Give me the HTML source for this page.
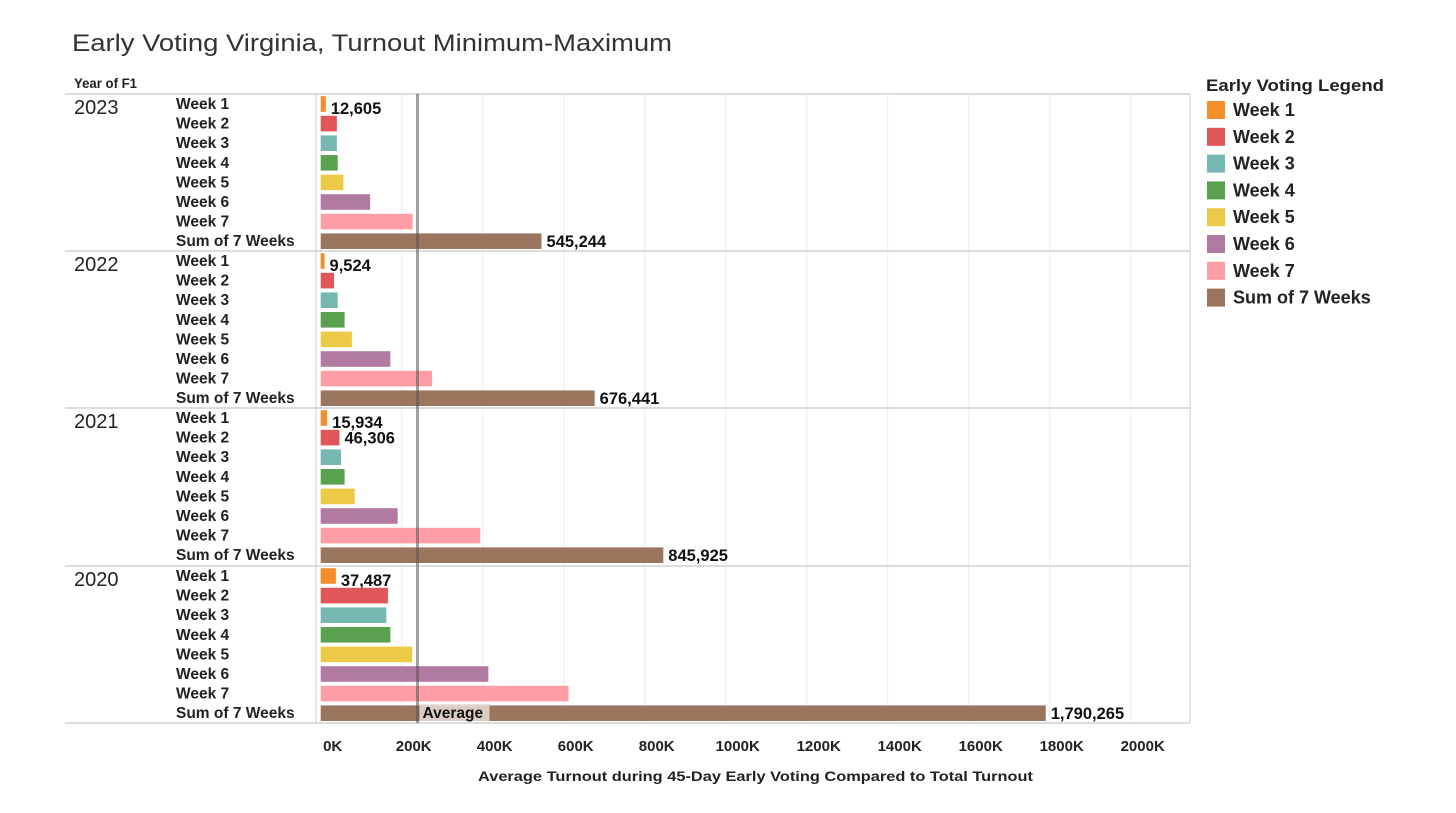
<!DOCTYPE html>
<html><head><meta charset="utf-8"><style>
body{margin:0;background:#fff;font-family:"Liberation Sans",sans-serif;}
svg text{font-family:"Liberation Sans",sans-serif;}
</style></head><body>
<svg id="c" width="1456" height="808">
<text x="72" y="51" font-size="24" fill="#333" textLength="600" lengthAdjust="spacingAndGlyphs">Early Voting Virginia, Turnout Minimum-Maximum</text>
<text x="74" y="88" font-size="14" font-weight="bold" fill="#222" textLength="63" lengthAdjust="spacingAndGlyphs">Year of F1</text>
<text x="1206" y="91" font-size="17" font-weight="bold" fill="#222" textLength="178" lengthAdjust="spacingAndGlyphs">Early Voting Legend</text>
<text x="478" y="781" font-size="14" font-weight="bold" fill="#222" textLength="555" lengthAdjust="spacingAndGlyphs">Average Turnout during 45-Day Early Voting Compared to Total Turnout</text>
<g id="g"></g>
</svg>
<script>
const years=["2023","2022","2021","2020"];
const categories=["Week 1","Week 2","Week 3","Week 4","Week 5","Week 6","Week 7","Sum of 7 Weeks"];
const v2023=[12605,40000,40000,42000,56000,122000,227000,545244];
const v2022=[9524,33000,42000,59000,77000,172000,275000,676441];
const v2021=[15934,46306,50000,59000,84000,190000,394000,845925];
const v2020=[37487,166000,162000,172000,226000,414000,612000,1790265];
const labeled=[[0,7],[0,7],[0,1,7],[0,7]];
const ticks=[0,200000,400000,600000,800000,1000000,1200000,1400000,1600000,1800000,2000000];
const tickLabels=["0K","200K","400K","600K","800K","1000K","1200K","1400K","1600K","1800K","2000K"];
const average=239000;
const colors=["#f28e2b","#e15759","#76b7b2","#59a14f","#edc948","#b07aa1","#ff9da7","#9c755f"];
const series=[v2023,v2022,v2021,v2020];
const x0=320.7,k=81/200000;
const X=v=>x0+v*k;
const panelTop=[94,251,408,566],panelH=157,pitch=19.6;
const g=document.getElementById('g');
const NS="http://www.w3.org/2000/svg";
function el(t,a,txt){const e=document.createElementNS(NS,t);for(const n in a)e.setAttribute(n,a[n]);if(txt!=null)e.textContent=txt;g.appendChild(e);return e;}
ticks.forEach((t,i)=>{if(i>0){const e=el('line',{x1:X(t),x2:X(t),y1:94,y2:723,stroke:'#ececec','stroke-width':1});

}
const l=el('text',{x:X(t)+12,y:751,'font-size':15,'font-weight':'bold','text-anchor':'middle',fill:'#222'},tickLabels[i]);

});
let f=el('line',{x1:316,x2:316,y1:94,y2:723,stroke:'#ccc'});


f=el('line',{x1:1190,x2:1190,y1:94,y2:723,stroke:'#ccc'});


[94,251,408,566,723].forEach(y=>{const e=el('line',{x1:65,x2:1190,y1:y,y2:y,stroke:'#c8c8c8','stroke-width':1.2});

});
series.forEach((vals,p)=>{
 const yl=el('text',{x:74,y:panelTop[p]+20,'font-size':20,fill:'#222'},years[p]);
 
 
 vals.forEach((v,i)=>{
  const cy=panelTop[p]+10+i*pitch;
  const rl=el('text',{x:176,y:cy+5,'font-size':15.5,'font-weight':'bold',fill:'#222'},categories[i]);
  
  
  const r=el('rect',{x:x0,y:cy-7.8,width:Math.max(X(v)-x0,1),height:15.6,fill:colors[i]});
  
  
  if(labeled[p].includes(i)){
   const t=el('text',{x:X(v)+5,y:cy+(i===0?10:6),'font-size':16.5,'font-weight':'bold',fill:'#111'},v.toLocaleString('en-US'));
   
   
  }
 });
});
const al=el('line',{x1:X(average),x2:X(average),y1:94,y2:723,stroke:'#555','stroke-width':3,opacity:0.55});


const ab=el('rect',{x:X(average)+2,y:704,width:70,height:17,fill:'#e6dcd6',opacity:0.85});


const at=el('text',{x:X(average)+5,y:718,'font-size':15.5,'font-weight':'bold',fill:'#111'},'Average');


categories.forEach((c,i)=>{const y=101+i*26.8;
 const s=el('rect',{x:1207,y:y,width:18,height:18,fill:colors[i]});
 
 
 const t=el('text',{x:1233,y:y+15,'font-size':18,'font-weight':'bold',fill:'#222'},c);
 
 
});
</script>
</body></html>
